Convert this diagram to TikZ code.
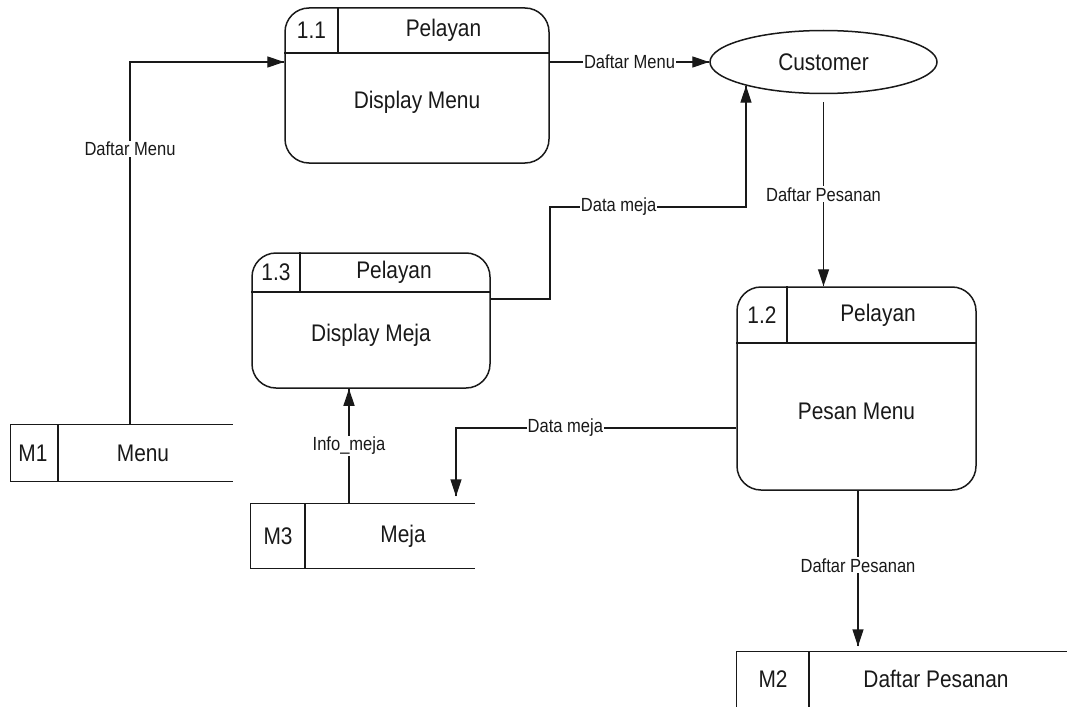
\documentclass[tikz,border=0pt]{standalone}
\usepackage{fontspec}
\setmainfont{Liberation Sans}[FakeStretch=0.87]
\usepackage{tikz}
\usetikzlibrary{arrows.meta}
\usetikzlibrary{decorations.markings}
\usetikzlibrary{shapes.geometric}
\tikzset{alir/.style = {decoration={markings,
                                  mark=at position 1 with {\arrow{Triangle[length=17pt, width=11pt]}}},
                      postaction={decorate}}}
\tikzset{proses/.style = {draw, rounded corners=24pt, line width=1.5pt, inner sep=0}}
\tikzset{simpan/.style = {inner sep=0}}
\tikzset{teks/.style = {font=\fontsize{24}{28}\selectfont}}
\tikzset{lbl/.style = {fill=white, inner sep=1pt, font=\fontsize{19}{22}\selectfont}}

\begin{document}
\begin{tikzpicture}[x=1pt, y=-1pt, line width=1.3pt, color=black!90]
      \useasboundingbox (0,0) rectangle (1067,706);

      % proses 1.1
      \node [proses, minimum width=264pt, minimum height=155pt] (p11) at (417,85.5) {};
      \draw (p11.west |- 0,53) -- (p11.east |- 0,53);
      \draw (338,0 |- p11.north) -- (338,53);
      \node [teks] (p11n) at (311.5,30.5) {1.1};
      \node [teks] (p11h) at (443.5,30.5) {Pelayan};
      \node [teks] (p11b) at (417,102) {Display Menu};

      % proses 1.3
      \node [proses, minimum width=238pt, minimum height=135pt] (p13) at (371,320.5) {};
      \draw (p13.west |- 0,292) -- (p13.east |- 0,292);
      \draw (300,0 |- p13.north) -- (300,292);
      \node [teks] (p13n) at (276,272.5) {1.3};
      \node [teks] (p13h) at (394,272.5) {Pelayan};
      \node [teks] (p13b) at (371,335) {Display Meja};

      % proses 1.2
      \node [proses, minimum width=239pt, minimum height=203pt] (p12) at (856.5,388.5) {};
      \draw (p12.west |- 0,343) -- (p12.east |- 0,343);
      \draw (787,0 |- p12.north) -- (787,343);
      \node [teks] (p12n) at (762,315) {1.2};
      \node [teks] (p12h) at (878,315) {Pelayan};
      \node [teks] (p12b) at (856.5,411) {Pesan Menu};

      % entitas
      \node [draw, ellipse, line width=1.5pt, minimum width=227pt, minimum height=63pt, teks] (cust) at (823.5,62) {Customer};

      % data store
      \node [simpan, minimum width=221pt, minimum height=56pt] (m1) at (121.5,453) {};
      \draw (m1.north east) -- (m1.north west) -- (m1.south west) -- (m1.south east);
      \draw (58,0 |- m1.north) -- (58,0 |- m1.south);
      \node [teks] (m1n) at (33,453) {M1};
      \node [teks] (m1t) at (143,453) {Menu};

      \node [simpan, minimum width=223pt, minimum height=64pt] (m3) at (362.5,536) {};
      \draw (m3.north east) -- (m3.north west) -- (m3.south west) -- (m3.south east);
      \draw (305,0 |- m3.north) -- (305,0 |- m3.south);
      \node [teks] (m3n) at (278,536) {M3};
      \node [teks] (m3t) at (403,536) {Meja};

      \node [simpan, minimum width=330pt, minimum height=60pt] (m2) at (902,682) {};
      \draw (m2.north east) -- (m2.north west) -- (m2.south west) -- (m2.south east);
      \draw (809,0 |- m2.north) -- (809,0 |- m2.south);
      \node [teks] (m2n) at (773,679) {M2};
      \node [teks] (m2t) at (936,679) {Daftar Pesanan};

      % aliran data
      \coordinate (a1) at (130,62);
      \draw [alir] (m1.north -| a1) -- node [lbl, pos=0.76] {Daftar Menu} (a1) -- (p11.west |- a1);
      \draw [alir] (p11.east |- a1) -- node [lbl] {Daftar Menu} (cust.west);

      \coordinate (b1) at (550,299);
      \coordinate (b2) at (550,207);
      \draw [alir] (p13.east |- b1) -- (b1) -- (b2) -- node [lbl, pos=0.35] {Data meja} (cust.197 |- b2) -- (cust.197);

      \draw [alir] ([yshift=-8pt]cust.south) -- node [lbl] {Daftar Pesanan} (p12.north -| cust.south);

      \coordinate (c1) at (456,428);
      \draw [alir] (p12.west |- c1) -- node [lbl, pos=0.61] {Data meja} (c1) -- ([yshift=7pt]m3.north -| c1);

      \coordinate (d1) at (349,446);
      \draw [alir] (m3.north -| d1) -- node [lbl] {Info\_meja} (p13.south -| d1);

      \coordinate (e1) at (858,565);
      \draw [alir] (p12.south -| e1) -- node [lbl, pos=0.48] {Daftar Pesanan} ([yshift=5pt]m2.north -| e1);
    \end{tikzpicture}
\end{document}
